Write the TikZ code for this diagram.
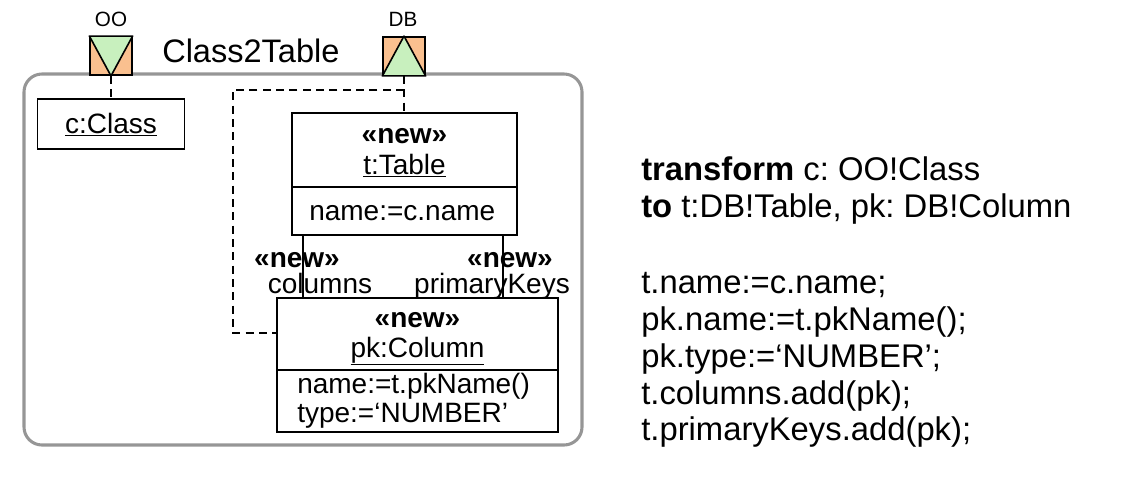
\documentclass[tikz,border=0pt]{standalone}
\usepackage{fontspec}
\setmainfont{Liberation Sans}
\frenchspacing
\definecolor{portorange}{RGB}{250,192,143}
\definecolor{portgreen}{RGB}{200,240,190}
\definecolor{framegray}{RGB}{150,150,150}
\begin{document}
\begin{tikzpicture}[x=0.75pt,y=-0.75pt,
  umlbox/.style={draw=black,line width=1.4pt,inner sep=0pt},
  dtext/.style={font=\fontsize{21}{25}\selectfont,inner sep=0pt},
  rtext/.style={font=\fontsize{24.6}{28}\selectfont,inner sep=0pt,anchor=base west},
  port/.style={draw=black,line width=1.4pt,fill=portorange,minimum width=31pt,minimum height=28.5pt,inner sep=0pt},
  tri/.style={draw=black,line width=1.2pt,fill=portgreen,line join=round},
  conn/.style={draw=black,line width=1.4pt},
  dconn/.style={draw=black,line width=1.4pt,dash pattern=on 6pt off 4pt}]
\useasboundingbox (0,0) rectangle (1137,483);

% frame
\node[draw=framegray,line width=2.3pt,rounded corners=13.5pt,minimum width=418.5pt,minimum height=278.25pt,inner sep=0pt] (frame) at (303,259.5) {};

% ports
\node[port] (oo) at (111,56) {};
\node[port] (db) at (404,56) {};
\filldraw[tri] (oo.north west) -- (oo.north east) -- (oo.south) -- cycle;
\filldraw[tri] (db.south west) -- (db.south east) -- (db.north) -- cycle;
\node[inner sep=0pt,anchor=base,font=\fontsize{15.5}{18}\selectfont] (oolbl) at (111,26) {OO};
\node[inner sep=0pt,anchor=base,font=\fontsize{15.5}{18}\selectfont] (dblbl) at (403,26) {DB};
\node[inner sep=0pt,anchor=base west,font=\fontsize{24.4}{28}\selectfont] (title) at (162,62) {Class2Table};

% c:Class
\node[umlbox,minimum width=110.25pt,minimum height=37.5pt] (cclass) at (111,124) {};
\node[dtext,anchor=base] (cclasst) at (111,133) {\underline{c:Class}};

% t:Table
\node[umlbox,minimum width=168.75pt,minimum height=91.5pt] (table) at (404.5,174) {};
\node[dtext,anchor=base] (tablest) at (404.5,143) {\bfseries «new»};
\node[dtext,anchor=base] (tablen) at (404.5,174) {\underline{t:Table}};
\draw[conn] (table.west |- 0,187) -- (table.east |- 0,187);
\node[dtext,anchor=base west] (tableattr) at (309,220) {name:=c.name};

% pk:Column
\node[umlbox,minimum width=210.75pt,minimum height=100.5pt] (pk) at (417.5,365) {};
\node[dtext,anchor=base] (pkst) at (417.5,327) {\bfseries «new»};
\node[dtext,anchor=base] (pkn) at (417.5,357) {\underline{pk:Column}};
\draw[conn] (pk.west |- 0,370) -- (pk.east |- 0,370);
\node[dtext,anchor=base west] (pkattr1) at (297,393) {name:=t.pkName()};
\node[dtext,anchor=base west] (pkattr2) at (297,422) {type:=‘NUMBER’};

% associations
\draw[conn] ([xshift=9pt]table.south west) -- ([xshift=9pt]table.south west |- pk.north);
\draw[conn] ([xshift=-11.25pt]table.south east) -- ([xshift=-11.25pt]table.south east |- pk.north);
\node[dtext,anchor=base] (colst) at (297,267) {\bfseries «new»};
\node[dtext,anchor=base] (coln) at (320,293) {columns};
\node[dtext,anchor=base] (pkyst) at (510,267) {\bfseries «new»};
\node[dtext,anchor=base] (pkyn) at (492,293) {primaryKeys};

% dashed links
\coordinate (j) at (404,90);
\coordinate (k) at (233,90);
\coordinate (m) at (233,333);
\draw[dconn] (oo.south) -- (cclass.north);
\draw[dconn] (db.south) -- (j) -- (table.north -| j);
\draw[dconn] (j) -- (k) -- (m) -- (pk.west |- m);

% right text
\node[rtext] (r1) at (641,180) {\textbf{transform} c: OO!Class};
\node[rtext] (r2) at (641,217.5) {\textbf{to} t:DB!Table, pk: DB!Column};
\node[rtext] (r3) at (641,293) {t.name:=c.name;};
\node[rtext] (r4) at (641,330) {pk.name:=t.pkName();};
\node[rtext] (r5) at (641,367) {pk.type:=‘NUMBER’;};
\node[rtext] (r6) at (641,404) {t.columns.add(pk);};
\node[rtext] (r7) at (641,440) {t.primaryKeys.add(pk);};
\end{tikzpicture}
\end{document}
